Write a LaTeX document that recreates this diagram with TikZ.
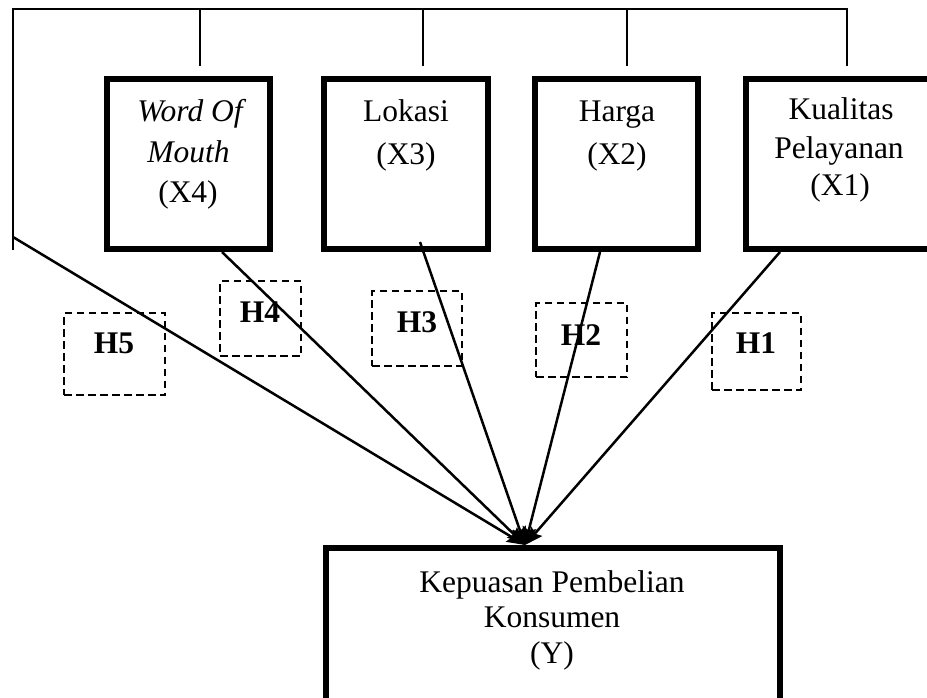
\documentclass[tikz,border=0pt]{standalone}
\usepackage{fontspec}
\setmainfont{Liberation Serif}
\usetikzlibrary{arrows.meta}
\newcommand\diafont{\fontsize{31.5}{38}\selectfont}
\tikzset{
  thinline/.style={line width=1.4pt},
  arr/.style={line width=2.5pt, -{Stealth[length=18pt,width=14pt,inset=3pt]}},
  varbox/.style={draw, line width=6pt, inner sep=0pt},
  hypbox/.style={draw, line width=2.4pt, dash pattern=on 7.5pt off 4.5pt, inner sep=0pt},
  txt/.style={inner sep=0pt, anchor=base, font=\diafont},
  hlab/.style={txt, font=\diafont\bfseries}
}
\begin{document}
\begin{tikzpicture}[x=1pt,y=-1pt]
\useasboundingbox (0,0) rectangle (927,698);
% variable boxes
\node[varbox, minimum width=163pt, minimum height=170pt] (wom) at (188.5,164) {};
\node[varbox, minimum width=164pt, minimum height=170pt] (lok) at (406,164) {};
\node[varbox, minimum width=163pt, minimum height=170pt] (har) at (616.5,164) {};
\node[varbox, minimum width=190pt, minimum height=170pt] (kua) at (841,164) {};
\node[varbox, minimum width=454pt, minimum height=157pt] (kep) at (553,626.5) {};
% texts
\node[txt] (t4a) at (190,122) {\itshape Word Of};
\node[txt] (t4b) at (188.5,163) {\itshape Mouth};
\node[txt] (t4c) at (188,203) {(X4)};
\node[txt] (t3a) at (406,122) {Lokasi};
\node[txt] (t3b) at (406,165) {(X3)};
\node[txt] (t2a) at (617,122) {Harga};
\node[txt] (t2b) at (617,165) {(X2)};
\node[txt] (t1a) at (841,120) {Kualitas};
\node[txt] (t1b) at (839,159) {Pelayanan};
\node[txt] (t1c) at (840,196) {(X1)};
\node[txt] (tya) at (552,592) {Kepuasan Pembelian};
\node[txt] (tyb) at (552,627) {Konsumen};
\node[txt] (tyc) at (552,663) {(Y)};
% hypothesis boxes
\node[hypbox, minimum width=101pt, minimum height=82pt] (h5) at (114.5,354) {};
\node[hypbox, minimum width=81pt, minimum height=75pt] (h4) at (260.5,318.5) {};
\node[hypbox, minimum width=90pt, minimum height=75pt] (h3) at (417,328.5) {};
\node[hypbox, minimum width=91pt, minimum height=74pt] (h2) at (581.5,340) {};
\node[hypbox, minimum width=89pt, minimum height=77pt] (h1) at (756.5,351.5) {};
\node[hlab] (l5) at (114,353) {H5};
\node[hlab] (l4) at (260,322) {H4};
\node[hlab] (l3) at (417,332) {H3};
\node[hlab] (l2) at (581,345) {H2};
\node[hlab] (l1) at (756,353) {H1};
% top bracket lines
\coordinate (tl) at (13,9);
\coordinate (tr) at (847,9);
\coordinate (lb) at (13,250);
\coordinate (d4) at (200,66);
\coordinate (d3) at (423,66);
\coordinate (d2) at (627,66);
\coordinate (d1) at (847,66);
\draw[thinline] (lb) -- (tl) -- (tr) -- (d1);
\draw[thinline] (d4 |- tl) -- (d4);
\draw[thinline] (d3 |- tl) -- (d3);
\draw[thinline] (d2 |- tl) -- (d2);
% arrows
\coordinate (s5) at (13,237);
\coordinate (s4) at (222,252);
\coordinate (s3) at (420,242);
\coordinate (s2) at (600,252);
\coordinate (s1) at (780,252);
\coordinate (yt) at (525,545);
\draw[arr] (s5) -- (yt);
\draw[arr] (s4) -- (yt);
\draw[arr] (s3) -- (yt);
\draw[arr] (s2) -- (yt);
\draw[arr] (s1) -- (yt);
\end{tikzpicture}
\end{document}
